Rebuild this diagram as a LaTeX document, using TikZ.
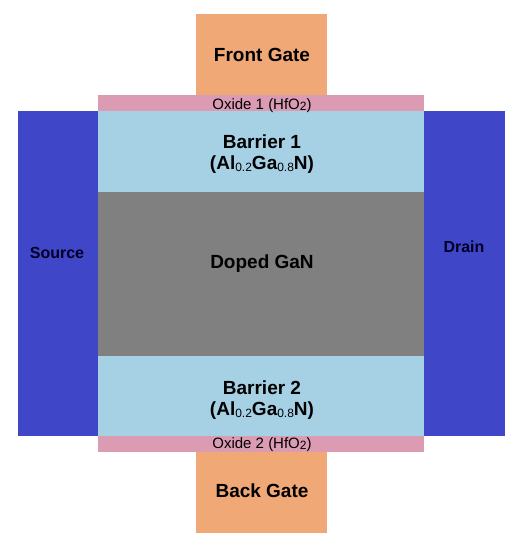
\documentclass[tikz,border=0pt]{standalone}
\usepackage{fontspec}
\setmainfont{Liberation Sans}
\usepackage{tikz}

\definecolor{gatecol}{HTML}{F0A877}
\definecolor{oxidecol}{HTML}{DB9BB2}
\definecolor{barriercol}{HTML}{A6D1E5}
\definecolor{channelcol}{HTML}{808080}
\definecolor{contactcol}{HTML}{4046C8}

% lowered index in layer names
\newcommand{\lowidx}[1]{\raisebox{-0.25ex}{\mdseries\fontsize{12}{12}\selectfont #1}}

\begin{document}
\begin{tikzpicture}[x=1pt, y=-1pt,
    bigtxt/.style={font=\bfseries\fontsize{19}{21}\selectfont, align=center, inner sep=0pt, anchor=base},
    oxtxt/.style={font=\fontsize{15}{17}\selectfont, inner sep=0pt, anchor=base},
    contxt/.style={font=\bfseries\fontsize{16}{18}\selectfont, text=black!85!blue, inner sep=0pt, anchor=base}]
				\useasboundingbox (0,0) rectangle (522,551);
				
				% layers
				\fill[gatecol] (196,14) rectangle (327,95);
				\fill[oxidecol] (98,95) rectangle (424,111);
				\fill[contactcol] (18,111) rectangle (98,436);
				\fill[contactcol] (424,111) rectangle (505,436);
				\fill[barriercol] (98,111) rectangle (424,192);
				\fill[channelcol] (98,192) rectangle (424,356);
				\fill[barriercol] (98,356) rectangle (424,436);
				\fill[oxidecol] (98,436) rectangle (424,452);
				\fill[gatecol] (196,452) rectangle (327,533);
				
				% labels
				\node[bigtxt] (fg) at (262,61) {Front Gate};
				\node[oxtxt] (ox1) at (262,109) {Oxide 1 (HfO\lowidx{2})};
				\node[bigtxt] (b1) at (262,169) {Barrier 1\\(Al\lowidx{0.2}Ga\lowidx{0.8}N)};
				\node[bigtxt] (gan) at (262,268) {Doped GaN};
				\node[bigtxt] (b2) at (262,415) {Barrier 2\\(Al\lowidx{0.2}Ga\lowidx{0.8}N)};
				\node[oxtxt] (ox2) at (262,448) {Oxide 2 (HfO\lowidx{2})};
				\node[bigtxt] (bg) at (262,497) {Back Gate};
				\node[contxt] (src) at (57,258) {Source};
				\node[contxt] (drn) at (464,252) {Drain};
			\end{tikzpicture}
\end{document}
